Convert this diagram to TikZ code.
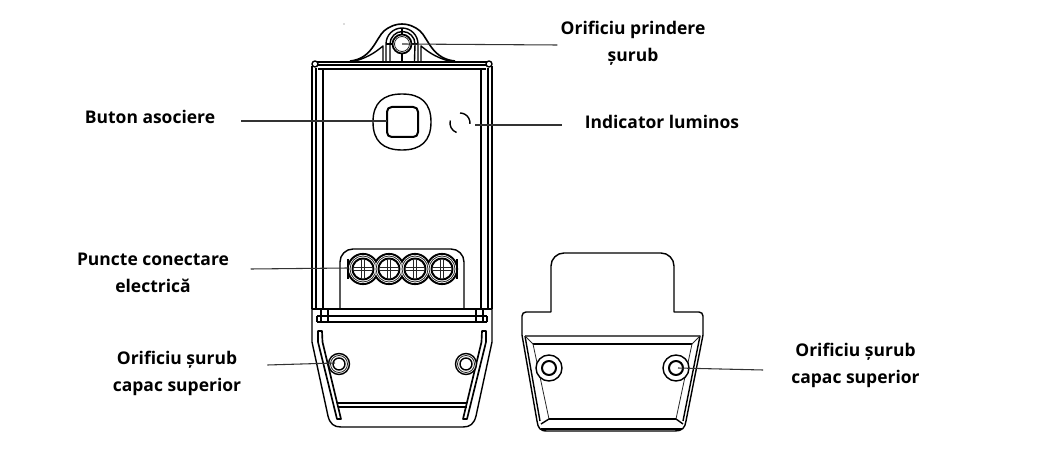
\documentclass[tikz,border=0pt]{standalone}
\usepackage{fontspec}
\setmainfont{Open Sans}
\usetikzlibrary{calc}
\tikzset{
  x=0.75pt,y=-0.75pt,
  ln/.style={draw=black,line width=1.05pt,line join=round},
  thin ln/.style={draw=black!85,line width=0.6pt,line join=round},
  leader/.style={draw=black!80,line width=0.8pt},
  lbl/.style={font=\bfseries\fontsize{13.1pt}{20.2pt}\selectfont,align=center,inner sep=0pt,text=black},
}
\begin{document}
\begin{tikzpicture}
\useasboundingbox (0,0) rectangle (1054,474);
% main body
\draw[ln] (312,309) -- (312,66) (316,309) -- (316,68) (323,309) -- (323,69);
\draw[ln] (492,309) -- (492,66) (488,309) -- (488,68) (481,309) -- (481,69);
\draw[ln] (315,62) -- (489,62) (315,65) -- (489,65) (318,69) -- (486,69);
\draw[ln,fill=white] (315,64) circle (3);
\draw[ln,fill=white] (489,64) circle (3);
% ear
\draw[ln,line width=1.2pt,fill=white] (350,61) .. controls (372,59) and (376,38) .. (384,31)
  .. controls (390,26) and (396,24) .. (402,24)
  .. controls (408,24) and (414,26) .. (420,31)
  .. controls (428,38) and (432,59) .. (455,61);
\draw[ln] (355,61) .. controls (370,57) and (378,50) .. (383,46) -- (383,61);
\draw[ln] (449,61) .. controls (434,57) and (426,50) .. (421,46) -- (421,61);
\draw[ln] (386,61) -- (386,44) arc (180:360:16) -- (418,61);
\draw[ln] (390,61) -- (390,44) arc (180:360:12.5) -- (414.5,61);
\draw[ln] (386,44) -- (392,44) (412,44) -- (418,44) (402,28) -- (402,34) (402,54) -- (402,61);
\draw[ln,line width=1.3pt,fill=white] (402,44) circle (9.5);
\draw[thin ln] (402,44) circle (7.5);
% button
\draw[ln] (373,122) .. controls (373,103) and (383,94) .. (402,94)
  .. controls (421,94) and (431,103) .. (431,122)
  .. controls (431,141) and (421,150) .. (402,150)
  .. controls (383,150) and (373,141) .. (373,122) -- cycle;
\draw[ln,rounded corners=3.5,line width=1.5pt] (387,107) rectangle (418,137);
% indicator
\draw[ln] (460,113) arc (270:365:10);
\draw[ln] (450.3,120.5) arc (195:110:10);
% terminal block
\draw[ln] (340,308) -- (340,262) arc (180:270:13) -- (451,249) arc (270:360:13) -- (464,308);
\foreach \c in {363,389,415,442}{
  \draw[ln,line width=1.6pt,fill=white] (\c,269) circle (15);
}
\draw[ln,line width=1.6pt] (348,259) -- (348,279) (457,259) -- (457,279);
\foreach \c in {363,389,415,442}{
  \draw[draw=none,fill=white] (\c,269) circle (14);
  \draw[thin ln,fill=white] (\c,269) circle (13);
  \draw[ln,line width=1.5pt] (\c,269) circle (10.5);
  \draw[thin ln] (\c-1.7,259) -- (\c-1.7,279) (\c+1.7,259) -- (\c+1.7,279)
                 (\c-10,267.3) -- (\c+10,267.3) (\c-10,270.7) -- (\c+10,270.7);
  \fill[white] (\c-1.3,267.6) rectangle (\c+1.3,270.4);
}
% hinge bars
\draw[ln,line width=1.2pt] (312,309) -- (492,309);
\draw[ln] (317,316) -- (487,316);
\draw[ln] (317,322) -- (487,322) (317,316) -- (317,322) (487,316) -- (487,322);
\draw[ln] (321,309) -- (321,322) (328,309) -- (328,322) (476,309) -- (476,322) (483,309) -- (483,322);
% lower cover
\draw[ln] (312,309) -- (312,342) -- (328,416) .. controls (330,424) and (334,427) .. (341,427)
  -- (463,427) .. controls (470,427) and (474,424) .. (476,416) -- (492,342) -- (492,309);
\draw[ln,line width=1.25pt] (318,331) -- (322,331) -- (322.5,342) -- (341,419) -- (337,419) -- (318,342) -- cycle;
\draw[ln,line width=1.25pt] (486,331) -- (482,331) -- (481.5,342) -- (463,419) -- (467,419) -- (486,342) -- cycle;
\draw[ln,line width=1.3pt] (338,403) -- (467,403);
\draw[ln] (338,407) -- (467,407);
\foreach \c in {339,466}{
  \draw[ln,fill=white] (\c,364) circle (10.5);
  \draw[thin ln] (\c,364) circle (8.5);
  \draw[ln] (\c,364) circle (6);
}
% right part
\draw[ln] (551,312) -- (551,266) arc (180:270:13) -- (661,253) arc (270:360:13) -- (674,312)
  -- (699,312) arc (270:360:4) -- (703,335) -- (686,421) .. controls (685,428) and (682,431) .. (675,431)
  -- (547,431) .. controls (540,431) and (538,428) .. (537,421) -- (522,335) -- (522,316) arc (180:270:4) -- (551,312);
\draw[ln] (525,336) -- (700,336) -- (683,421);
\draw[ln] (525,336) -- (540,421);
\draw[ln] (533,344) -- (692,344);
\draw[thin ln] (525,336) -- (533,344) (700,336) -- (692,344);
\draw[thin ln] (533,344) -- (549,419) (692,344) -- (676,419);
\draw[ln] (549,419) -- (676,419);
\draw[ln] (541,424) -- (549,419) (683,424) -- (676,419);
\draw[ln] (541,429) -- (682,429);
\foreach \c in {549,676}{
  \draw[ln,fill=white] (\c,368) circle (13);
  \draw[ln,line width=1.5pt] (\c,368) circle (7);
}
% speck
\fill[black!60] (344,24) circle (0.7);
% labels
\node[lbl] (l1) at (633,43.5) {Orificiu prindere\\șurub};
\node[lbl] (l2) at (150,117) {Buton asociere};
\node[lbl] (l3) at (662,122) {Indicator luminos};
\node[lbl] (l4) at (153,273) {Puncte conectare\\electrică};
\node[lbl] (l5) at (177,373) {Orificiu șurub\\capac superior};
\node[lbl] (l6) at (855.5,365) {Orificiu șurub\\capac superior};
% leader ends on the device
\coordinate (a1) at (402,44);
\coordinate (a2) at (387,121);
\coordinate (a3) at (475,125);
\coordinate (a4) at (348,268);
\coordinate (a5) at (335,363);
\coordinate (a6) at (678,368);
\draw[leader] (a1) -- ($(l1.west)+(-3,1.5)$);
\draw[leader] ($(l2.east)+(26,4)$) -- (a2);
\draw[leader] (a3) -- ($(l3.west)+(-23,3)$);
\draw[leader] ($(l4.east)+(21.5,-4)$) -- (a4);
\draw[leader] ($(l5.east)+(26,-8)$) -- (a5);
\draw[leader] (a6) -- ($(l6.west)+(-28,5)$);
\end{tikzpicture}
\end{document}
